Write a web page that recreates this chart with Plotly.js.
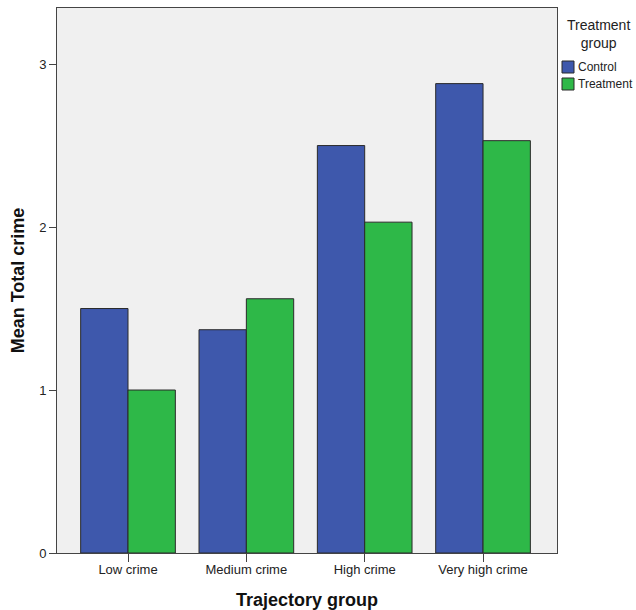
<!DOCTYPE html>
<html>
<head>
<meta charset="utf-8">
<script src="https://cdn.plot.ly/plotly-3.0.1.min.js"></script>
<style>body{margin:0;padding:0;background:#fff}</style>
</head>
<body>
<div id="chart" style="width:636px;height:610px"></div>
<script>
const categories = ["Low crime", "Medium crime", "High crime", "Very high crime"];
const controlValues = [1.50, 1.37, 2.50, 2.88];
const treatmentValues = [1.00, 1.56, 2.03, 2.53];
const seriesNames = ["Control", "Treatment"];
const seriesColors = ["#3E58AC", "#2EB848"];
const legendTitle = "Treatment<br>group";
const yTicks = [0, 1, 2, 3];

const traces = [
  {type: "bar", name: seriesNames[0], x: categories, y: controlValues,
   marker: {color: seriesColors[0], line: {color: "#2a2a2a", width: 1}}},
  {type: "bar", name: seriesNames[1], x: categories, y: treatmentValues,
   marker: {color: seriesColors[1], line: {color: "#2a2a2a", width: 1}}}
];

// legend drawn in paper coordinates (plot area spans 57..557 px wide, 8..553 px tall)
const pl = 57, pw = 500, pb = 553, ph = 545;
const px = v => (v - pl) / pw;
const py = v => (pb - v) / ph;
const swatchTops = [61, 78];
const shapes = seriesNames.map((n, i) => ({
  type: "rect", xref: "paper", yref: "paper",
  x0: px(562), x1: px(574), y0: py(swatchTops[i] + 12), y1: py(swatchTops[i]),
  fillcolor: seriesColors[i], line: {color: "#2a2a2a", width: 1}
}));
const annotations = [
  {xref: "paper", yref: "paper", x: px(598), y: py(34.5), text: legendTitle,
   showarrow: false, xanchor: "center", yanchor: "middle", align: "center",
   font: {size: 14, color: "#222"}}
].concat(seriesNames.map((n, i) => ({
  xref: "paper", yref: "paper", x: px(576), y: py(swatchTops[i] + 6), text: n,
  showarrow: false, xanchor: "left", yanchor: "middle",
  font: {size: 12, color: "#222"}
})));

const layout = {
  width: 636, height: 610,
  margin: {l: 57, r: 79, t: 8, b: 57, autoexpand: false},
  paper_bgcolor: "#ffffff",
  plot_bgcolor: "#F0F0F0",
  barmode: "group",
  bargap: 0.2,
  bargroupgap: 0,
  font: {family: "Liberation Sans, Arial, sans-serif", size: 13, color: "#222"},
  xaxis: {
    range: [-0.6, 3.625],
    showgrid: false, zeroline: false,
    showline: true, linecolor: "#444", linewidth: 1, mirror: true,
    ticks: "outside", ticklen: 8, tickcolor: "#444",
    ticklabelstandoff: -4,
    tickfont: {size: 13, color: "#222"},
    title: {text: "Trajectory group", font: {size: 18, color: "#111", family: "Liberation Sans, Arial, sans-serif", weight: "bold"}, standoff: 18}
  },
  yaxis: {
    range: [0, 3.344],
    tickvals: yTicks, ticktext: yTicks.map(String),
    showgrid: false, zeroline: false,
    showline: true, linecolor: "#444", linewidth: 1, mirror: true,
    ticks: "outside", ticklen: 7, tickcolor: "#444",
    tickfont: {size: 13, color: "#222"},
    title: {text: "Mean Total crime", font: {size: 18, color: "#111", family: "Liberation Sans, Arial, sans-serif", weight: "bold"}, standoff: 9}
  },
  showlegend: false,
  shapes: shapes,
  annotations: annotations
};

Plotly.newPlot("chart", traces, layout, {displayModeBar: false, staticPlot: true});
</script>
</body>
</html>
